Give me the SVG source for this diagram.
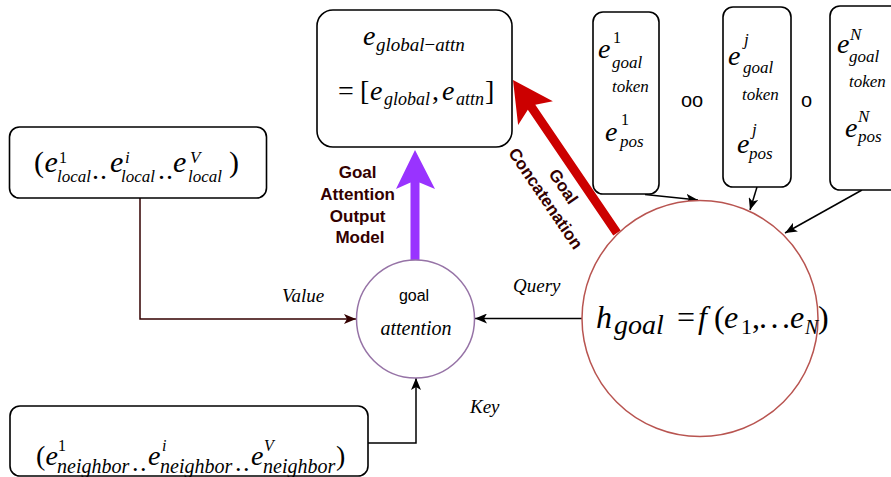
<svg xmlns="http://www.w3.org/2000/svg" width="891" height="477" viewBox="0 0 891 477">
  <style>
    .box { fill: #ffffff; stroke: #000000; stroke-width: 1.6; }
    .m { font-family: "Liberation Serif", "Times New Roman", serif; font-style: italic; fill: #000000; }
    .r { font-style: normal; }
    .lbl { font-family: "Liberation Sans", Arial, sans-serif; font-weight: bold; font-size: 17px; fill: #330000; text-anchor: middle; }
    .sans { font-family: "Liberation Sans", Arial, sans-serif; fill: #000000; }
    .edge { fill: none; stroke: #000000; stroke-width: 1.5; }
  </style>
  <defs>
    <marker id="arrowBlack" viewBox="0 0 12 10" refX="12" refY="5" markerWidth="12" markerHeight="10" markerUnits="userSpaceOnUse" orient="auto">
      <path d="M0,0 L12,5 L0,10 L3,5 Z" fill="#000000"/>
    </marker>
    <marker id="arrowMaroon" viewBox="0 0 12 10" refX="12" refY="5" markerWidth="12" markerHeight="10" markerUnits="userSpaceOnUse" orient="auto">
      <path d="M0,0 L12,5 L0,10 L3,5 Z" fill="#330000"/>
    </marker>
  </defs>

  <rect width="891" height="477" fill="#ffffff"/>

  <!-- connectors -->
  <g id="connectors">
    <path class="edge" d="M140,198 V319 H356" style="stroke:#330000" marker-end="url(#arrowMaroon)"/>
    <path class="edge" d="M368,443 H416 V378" marker-end="url(#arrowBlack)"/>
    <path class="edge" d="M582,318.5 H475" marker-end="url(#arrowBlack)"/>
    <path class="edge" d="M645,194.5 L698,200" marker-end="url(#arrowBlack)"/>
    <path class="edge" d="M757,187 L750,210" marker-end="url(#arrowBlack)"/>
    <path class="edge" d="M862,190 L785,233" marker-end="url(#arrowBlack)"/>
    <!-- thick output arrow from attention up to the global embedding -->
    <path d="M410.5,260 L410.5,182.5 L396,189 L415,150 L435,189 L419.5,182.5 L419.5,260 Z" fill="#9933FF"/>
    <!-- thick concatenation arrow from h_goal to the global embedding -->
    <path d="M613.28,235.53 L527.83,109.82 L518.12,124.89 L513,80 L552.86,101.27 L535.27,104.76 L620.72,230.47 Z" fill="#CC0000"/>
    <text class="lbl">
      <tspan x="360" y="178">Goal</tspan>
      <tspan x="360" y="200">Attention</tspan>
      <tspan x="360" y="222">Output</tspan>
      <tspan x="360" y="243">Model</tspan>
    </text>
    <g transform="translate(554.5,192.5) rotate(55.8)">
      <text class="lbl" x="0" y="-5">Goal</text>
      <text class="lbl" x="0" y="16.5">Concatenation</text>
    </g>
    <text class="m" x="282" y="302" font-size="19">Value</text>
    <text class="m" x="513" y="292" font-size="19">Query</text>
    <text class="m" x="470" y="413" font-size="19">Key</text>
  </g>

  <!-- global attention embedding -->
  <g id="global-attn">
    <rect class="box" x="317" y="10" width="195" height="137" rx="16"/>
    <text class="m">
      <tspan x="363" y="45" font-size="28">e</tspan>
      <tspan x="376" y="51" font-size="19">global</tspan><tspan class="r" font-size="19">−</tspan><tspan font-size="19">attn</tspan>
    </text>
    <text class="m">
      <tspan class="r" x="338" y="100" font-size="28">=</tspan>
      <tspan class="r" x="360" y="100" font-size="28">[</tspan>
      <tspan x="370" y="100" font-size="28">e</tspan>
      <tspan x="384" y="105" font-size="18">global</tspan>
      <tspan class="r" x="432" y="100" font-size="28">,</tspan>
      <tspan x="442" y="100" font-size="28">e</tspan>
      <tspan x="456" y="105" font-size="18">attn</tspan>
      <tspan class="r" x="485" y="100" font-size="28">]</tspan>
    </text>
  </g>

  <!-- goal token 1 -->
  <g id="token-1">
    <rect class="box" x="593" y="12" width="66" height="182" rx="10"/>
    <text class="m">
      <tspan x="598" y="58" font-size="28">e</tspan>
      <tspan class="r" x="613" y="43" font-size="16">1</tspan>
      <tspan x="612" y="68" font-size="17">goal</tspan>
      <tspan x="612" y="92" font-size="17">token</tspan>
      <tspan x="605" y="141" font-size="28">e</tspan>
      <tspan class="r" x="621" y="125" font-size="16">1</tspan>
      <tspan x="620" y="147" font-size="17">pos</tspan>
    </text>
  </g>

  <g id="dots-1">
    <text class="sans" x="681" y="107" font-size="20">oo</text>
  </g>

  <!-- goal token j -->
  <g id="token-j">
    <rect class="box" x="723" y="7" width="68" height="180" rx="10"/>
    <text class="m">
      <tspan x="728" y="65" font-size="28">e</tspan>
      <tspan x="744" y="45" font-size="17">j</tspan>
      <tspan x="743" y="73" font-size="17">goal</tspan>
      <tspan x="742" y="100" font-size="17">token</tspan>
      <tspan x="737" y="153" font-size="28">e</tspan>
      <tspan x="752" y="135" font-size="17">j</tspan>
      <tspan x="749" y="159" font-size="17">pos</tspan>
    </text>
  </g>

  <g id="dots-2">
    <text class="sans" x="801" y="107" font-size="20">o</text>
  </g>

  <!-- goal token N -->
  <g id="token-n">
    <rect class="box" x="830" y="6" width="72" height="184" rx="10"/>
    <text class="m">
      <tspan x="837" y="53" font-size="28">e</tspan>
      <tspan x="850" y="40" font-size="17">N</tspan>
      <tspan x="849" y="62" font-size="17">goal</tspan>
      <tspan x="849" y="87" font-size="17">token</tspan>
      <tspan x="845" y="137" font-size="28">e</tspan>
      <tspan x="858" y="122" font-size="17">N</tspan>
      <tspan x="858" y="142" font-size="17">pos</tspan>
    </text>
  </g>

  <!-- local embeddings -->
  <g id="local">
    <rect class="box" x="9.5" y="127" width="257" height="71" rx="10"/>
    <text class="m">
      <tspan class="r" x="34" y="172" font-size="30">(</tspan>
      <tspan x="44.5" y="172" font-size="30">e</tspan>
      <tspan class="r" x="59" y="163" font-size="16">1</tspan>
      <tspan x="57" y="182" font-size="17">local</tspan>
      <tspan class="r" x="92" y="179" font-size="28">.</tspan>
      <tspan class="r" x="100" y="179" font-size="28">.</tspan>
      <tspan x="110" y="172" font-size="30">e</tspan>
      <tspan x="125" y="163" font-size="17">i</tspan>
      <tspan x="121" y="182" font-size="17">local</tspan>
      <tspan class="r" x="158" y="179" font-size="28">.</tspan>
      <tspan class="r" x="166" y="179" font-size="28">.</tspan>
      <tspan x="173" y="172" font-size="30">e</tspan>
      <tspan x="190" y="163" font-size="17">V</tspan>
      <tspan x="188" y="182" font-size="17">local</tspan>
      <tspan class="r" x="229" y="172" font-size="30">)</tspan>
    </text>
  </g>

  <!-- neighbour embeddings -->
  <g id="neighbor">
    <rect class="box" x="10" y="406" width="358" height="70" rx="10"/>
    <text class="m">
      <tspan class="r" x="36" y="465" font-size="28">(</tspan>
      <tspan x="45.5" y="465" font-size="28">e</tspan>
      <tspan class="r" x="58" y="451" font-size="16">1</tspan>
      <tspan x="57" y="473" font-size="20">neighbor</tspan>
      <tspan class="r" x="132" y="471" font-size="26">.</tspan>
      <tspan class="r" x="140" y="471" font-size="26">.</tspan>
      <tspan x="148" y="465" font-size="28">e</tspan>
      <tspan x="162" y="451" font-size="16">i</tspan>
      <tspan x="160" y="473" font-size="20">neighbor</tspan>
      <tspan class="r" x="235" y="471" font-size="26">.</tspan>
      <tspan class="r" x="243" y="471" font-size="26">.</tspan>
      <tspan x="251" y="465" font-size="28">e</tspan>
      <tspan x="264" y="451" font-size="16">V</tspan>
      <tspan x="263" y="473" font-size="20">neighbor</tspan>
      <tspan class="r" x="336" y="465" font-size="28">)</tspan>
    </text>
  </g>

  <!-- attention node -->
  <g id="goal-attention">
    <circle cx="415.5" cy="319" r="59" fill="#ffffff" stroke="#9673A6" stroke-width="1.5"/>
    <text class="sans" x="414" y="301" font-size="16" text-anchor="middle">goal</text>
    <text class="m" x="416" y="335" font-size="20" text-anchor="middle">attention</text>
  </g>

  <!-- pooled goal representation -->
  <g id="h-goal">
    <circle cx="700" cy="318.5" r="118" fill="#ffffff" stroke="#B85450" stroke-width="1.5"/>
    <text class="m">
      <tspan x="596" y="328" font-size="32">h</tspan>
      <tspan x="614" y="334" font-size="28">goal</tspan>
      <tspan class="r" x="677" y="328" font-size="32">=</tspan>
      <tspan x="698" y="328" font-size="32">f</tspan>
      <tspan class="r" x="714" y="328" font-size="32">(</tspan>
      <tspan x="724" y="328" font-size="32">e</tspan>
      <tspan class="r" x="741" y="334" font-size="22">1</tspan>
      <tspan class="r" x="752" y="328" font-size="32">,</tspan>
      <tspan class="r" x="759" y="328" font-size="32">.</tspan>
      <tspan class="r" x="770.5" y="328" font-size="32">.</tspan>
      <tspan class="r" x="782" y="328" font-size="32">.</tspan>
      <tspan x="790" y="328" font-size="32">e</tspan>
      <tspan x="805" y="334" font-size="20">N</tspan>
      <tspan class="r" x="818" y="328" font-size="32">)</tspan>
    </text>
  </g>
</svg>
